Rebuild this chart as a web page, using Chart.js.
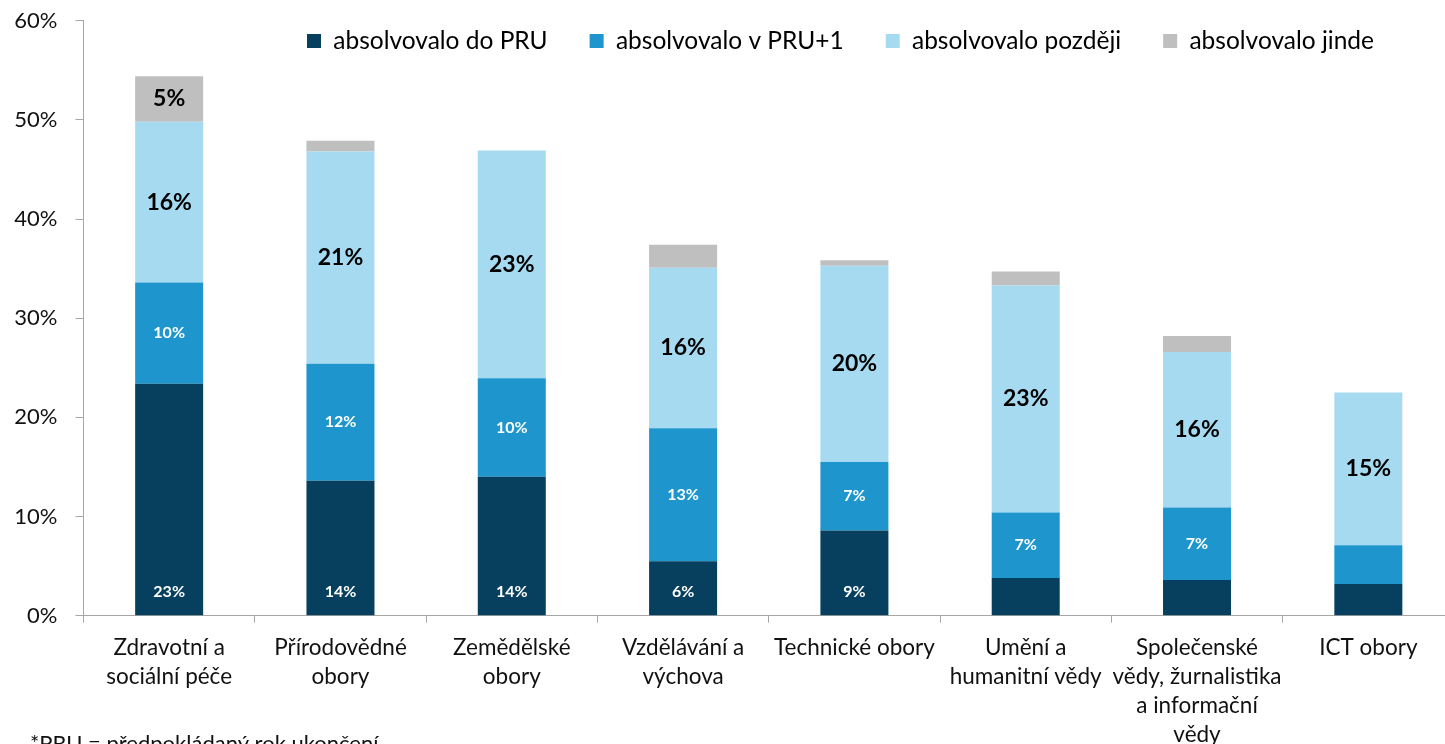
<!DOCTYPE html>
<html>
<head>
<meta charset="utf-8">
<script src="https://cdn.jsdelivr.net/npm/chart.js@4.4.0/dist/chart.umd.min.js"></script>
<style>
html,body{margin:0;padding:0;overflow:hidden;background:#fff;width:1445px;height:744px}
#wrap{width:1460px;height:744px}
canvas{display:block}
</style>
</head>
<body>
<div id="wrap"><canvas id="c" width="1460" height="744"></canvas></div>
<script>
// ---- data ----
const categories = [
  ["Zdravotní a", "sociální péče"],
  ["Přírodovědné", "obory"],
  ["Zemědělské", "obory"],
  ["Vzdělávání a", "výchova"],
  "Technické obory",
  ["Umění a", "humanitní vědy"],
  ["Společenské", "vědy, žurnalistika", "a informační", "vědy"],
  "ICT obory"
];
const seriesNames = ["absolvovalo do PRU", "absolvovalo v PRU+1", "absolvovalo později", "absolvovalo jinde"];
const doPRU   = [23.4, 13.6, 14.0, 5.5, 8.6, 3.8, 3.6, 3.2];
const vPRU1   = [10.2, 11.8, 9.95, 13.4, 6.9, 6.6, 7.3, 3.9];
const pozdeji = [16.2, 21.4, 22.95, 16.2, 19.8, 22.9, 15.7, 15.4];
const jinde   = [4.6, 1.1, 0, 2.3, 0.55, 1.4, 1.6, 0];
const yTicks  = [0, 10, 20, 30, 40, 50, 60];
const footnote = "*PRU = předpokládaný rok ukončení";
const labelThreshold = 4.5;

// ---- styles ----
const colors = ["#06405E", "#1E96CD", "#A6DAF1", "#BFBFBF"];
const axisColor = "#A6A6A6";
const textColor = "#111111";
const FONT = "Lato";

const seriesData = [doPRU, vPRU1, pozdeji, jinde];

const legendPlace = {
  id: "legendPlace",
  afterLayout(chart) {
    const lg = chart.legend;
    if (!lg) return;
    const pad = lg.options.labels.padding;
    const fs = lg.options.labels.font.size;
    lg.left = 307 - pad;
    lg.right = chart.width;
    lg.top = 41 - pad - fs / 2;
    lg.bottom = lg.top + pad + fs + 30;
  }
};

const barLabels = {
  id: "barLabels",
  afterDatasetsDraw(chart) {
    const ctx = chart.ctx;
    ctx.save();
    ctx.textAlign = "center";
    ctx.textBaseline = "middle";
    seriesData.forEach((arr, d) => {
      const meta = chart.getDatasetMeta(d);
      meta.data.forEach((el, i) => {
        const v = arr[i];
        if (v < labelThreshold) return;
        const txt = Math.round(v) + "%";
        let y;
        if (d === 0) y = el.base - 23;
        else y = (el.y + el.base) / 2;
        if (d < 2) {
          ctx.fillStyle = "#FFFFFF";
          ctx.font = "bold 16px " + FONT;
        } else {
          ctx.fillStyle = "#000000";
          ctx.font = "bold 23px " + FONT;
        }
        ctx.fillText(txt, el.x, y);
      });
    });
    ctx.restore();
  }
};

const footnotePlugin = {
  id: "footnotePlugin",
  afterDraw(chart) {
    const ctx = chart.ctx;
    ctx.save();
    ctx.font = "22px " + FONT;
    ctx.fillStyle = textColor;
    ctx.textAlign = "left";
    ctx.textBaseline = "alphabetic";
    ctx.fillText(footnote, 30, 751);
    ctx.restore();
  }
};

new Chart(document.getElementById("c"), {
  type: "bar",
  data: {
    labels: categories,
    datasets: seriesNames.map((n, i) => ({
      label: n,
      data: seriesData[i],
      backgroundColor: colors[i],
      borderWidth: 0,
      barPercentage: 0.397,
      categoryPercentage: 1
    }))
  },
  options: {
    responsive: false,
    animation: false,
    devicePixelRatio: 1,
    layout: { padding: { top: 19.7, right: 6, left: 0, bottom: 0 } },
    scales: {
      x: {
        stacked: true,
        offset: true,
        grid: { display: true, drawOnChartArea: false, drawTicks: true, tickLength: 7, color: axisColor, offset: true },
        border: { display: true, color: axisColor },
        ticks: {
          color: textColor, autoSkip: false, maxRotation: 0, minRotation: 0, padding: 11,
          font: { family: FONT, size: 22.5, lineHeight: 1.28 }
        },
        afterFit(s) { s.height = 128.3; }
      },
      y: {
        stacked: true,
        min: 0, max: 60,
        afterBuildTicks(s) { s.ticks = yTicks.map(v => ({ value: v })); },
        grid: { display: true, drawOnChartArea: false, drawTicks: true, tickLength: 8, color: axisColor },
        border: { display: true, color: axisColor },
        ticks: {
          color: textColor, padding: 18,
          font: { family: FONT, size: 22 },
          callback: v => v + "%"
        },
        afterFit(s) { s.width = 83.5; s.paddingTop = 0; s.paddingBottom = 0; }
      }
    },
    plugins: {
      legend: {
        position: "top",
        align: "start",
        maxHeight: 1,
        labels: {
          boxWidth: 14, boxHeight: 14, padding: 42, color: "#000",
          font: { family: FONT, size: 24.5 }
        }
      },
      tooltip: { enabled: false }
    }
  },
  plugins: [legendPlace, barLabels, footnotePlugin]
});
</script>
</body>
</html>
